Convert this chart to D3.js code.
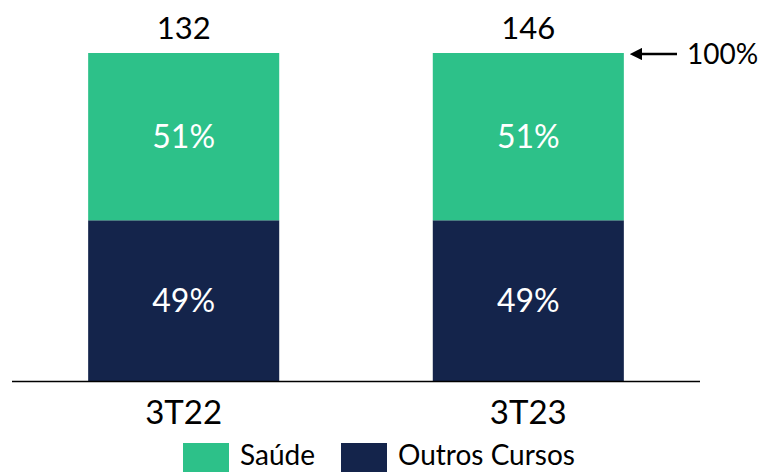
<!DOCTYPE html>
<html>
<head>
<meta charset="utf-8">
<script src="https://cdn.jsdelivr.net/npm/d3@7"></script>
<style>
  body { margin: 0; background: #fff; }
  text { font-family: Lato, "Noto Sans", sans-serif; }
</style>
</head>
<body>
<div id="chart"></div>
<script>
// data
const categories = ['3T22', '3T23'];
const totals = [132, 146];
const saude = [51, 51];
const outros = [49, 49];
const seriesNames = ['Saúde', 'Outros Cursos'];
const colors = { 'Saúde': '#2dc189', 'Outros Cursos': '#14244b' };

const width = 764, height = 472;

const svg = d3.select('#chart').append('svg')
  .attr('width', width)
  .attr('height', height);

const x = d3.scaleBand()
  .domain(categories)
  .range([12, 700])
  .paddingInner(0.4456)
  .paddingOuter(0.221);

const y = d3.scaleLinear()
  .domain([0, 100])
  .range([381, 53]);

const rows = categories.map((c, i) => ({ cat: c, 'Outros Cursos': outros[i], 'Saúde': saude[i] }));
const stack = d3.stack().keys(['Outros Cursos', 'Saúde']);
const layers = stack(rows);

const g = svg.selectAll('.layer')
  .data(layers)
  .enter().append('g')
  .attr('fill', d => colors[d.key]);

g.selectAll('rect')
  .data(d => d)
  .enter().append('rect')
  .attr('x', d => x(d.data.cat))
  .attr('width', x.bandwidth())
  .attr('y', d => y(d[1]))
  .attr('height', d => y(d[0]) - y(d[1]));

// percentage labels inside bars
g.selectAll('text')
  .data(d => d.map(v => Object.assign(v, { key: d.key })))
  .enter().append('text')
  .attr('x', d => x(d.data.cat) + x.bandwidth() / 2)
  .attr('y', d => (y(d[0]) + y(d[1])) / 2 + 11)
  .attr('text-anchor', 'middle')
  .attr('fill', '#fff')
  .attr('font-size', 32)
  .text(d => d.data[d.key] + '%');

// totals on top
svg.selectAll('.total')
  .data(categories)
  .enter().append('text')
  .attr('class', 'total')
  .attr('x', d => x(d) + x.bandwidth() / 2)
  .attr('y', 39)
  .attr('text-anchor', 'middle')
  .attr('font-size', 31)
  .attr('fill', '#000')
  .text((d, i) => totals[i]);

// baseline
svg.append('line')
  .attr('x1', 12).attr('x2', 700)
  .attr('y1', y(0) + 0.5).attr('y2', y(0) + 0.5)
  .attr('stroke', '#000')
  .attr('stroke-width', 1.5);

// category labels
svg.selectAll('.cat')
  .data(categories)
  .enter().append('text')
  .attr('class', 'cat')
  .attr('x', d => x(d) + x.bandwidth() / 2)
  .attr('y', 424)
  .attr('text-anchor', 'middle')
  .attr('font-size', 33)
  .text(d => d);

// 100% arrow
svg.append('defs').append('marker')
  .attr('id', 'arrow')
  .attr('viewBox', '0 0 10 10')
  .attr('refX', 1).attr('refY', 5)
  .attr('markerWidth', 5).attr('markerHeight', 5)
  .attr('orient', 'auto-start-reverse')
  .append('path')
  .attr('d', 'M0,0 L10,5 L0,10 z')
  .attr('fill', '#000');

svg.append('line')
  .attr('x1', 641).attr('x2', 677)
  .attr('y1', y(100) + 1).attr('y2', y(100) + 1)
  .attr('stroke', '#000')
  .attr('stroke-width', 2.5)
  .attr('marker-start', 'url(#arrow)');

svg.append('text')
  .attr('x', 687)
  .attr('y', y(100) + 11)
  .attr('font-size', 28)
  .text('100%');

// legend
const legend = svg.append('g');
const legendX = [183, 341];
seriesNames.forEach((name, i) => {
  legend.append('rect')
    .attr('x', legendX[i]).attr('y', 443)
    .attr('width', 46).attr('height', 29)
    .attr('fill', colors[name]);
  legend.append('text')
    .attr('x', legendX[i] + 57)
    .attr('y', 465)
    .attr('font-size', 28)
    .text(name);
});
</script>
</body>
</html>
